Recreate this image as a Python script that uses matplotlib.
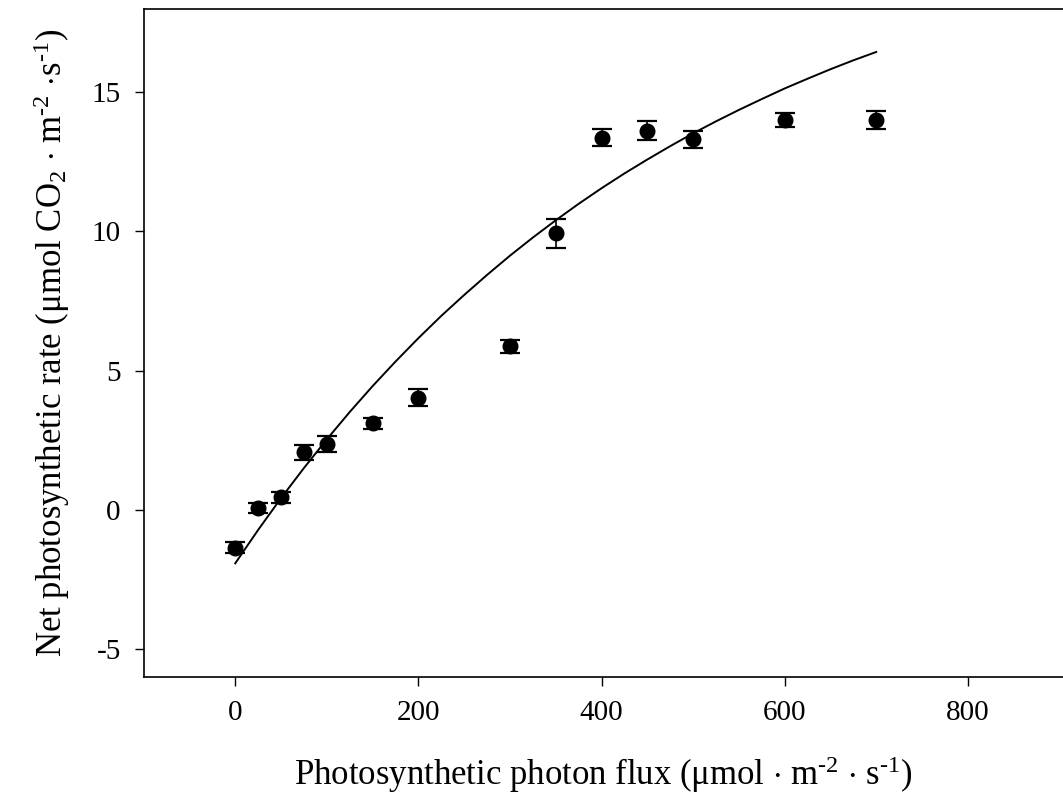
import matplotlib
matplotlib.use("Agg")
import matplotlib.pyplot as plt

plt.rcParams['font.family'] = ['Liberation Serif', 'DejaVu Serif']
plt.rcParams['mathtext.fontset'] = 'custom'
plt.rcParams['mathtext.rm'] = 'Liberation Serif'
plt.rcParams['mathtext.it'] = 'Liberation Serif:italic'
plt.rcParams['axes.unicode_minus'] = False

# measured points
ppf = [0, 25, 50, 75, 100, 150, 200, 300, 350, 400, 450, 500, 600, 700]
pn = [-1.35, 0.06, 0.46, 2.07, 2.37, 3.11, 4.04, 5.88, 9.93, 13.37, 13.61, 13.31, 13.99, 13.99]
pn_err = [0.19, 0.18, 0.19, 0.26, 0.29, 0.20, 0.31, 0.23, 0.51, 0.29, 0.34, 0.30, 0.26, 0.32]

# fitted curve
fit_x = [0, 25, 50, 75, 100, 125, 150, 175, 200, 225, 250, 275, 300, 325, 350,
         375, 400, 425, 450, 475, 500, 525, 550, 575, 600, 625, 650, 675, 700]
fit_y = [-1.91, -0.71, 0.43, 1.51, 2.54, 3.52, 4.45, 5.33, 6.17, 6.97, 7.72, 8.44,
         9.13, 9.78, 10.40, 10.99, 11.55, 12.08, 12.58, 13.06, 13.52, 13.95, 14.36,
         14.75, 15.13, 15.48, 15.82, 16.14, 16.44]

xticks = [0, 200, 400, 600, 800]
yticks = [-5, 0, 5, 10, 15]

fig = plt.figure(figsize=(10.63, 8.08), dpi=100)
ax = fig.add_axes([143.7 / 1063, (808 - 677.3) / 808, (1063 - 143.7) / 1063, (677.3 - 8.5) / 808])

ax.plot(fit_x, fit_y, color='black', linewidth=1.4)
ax.errorbar(ppf, pn, yerr=pn_err, fmt='o', color='black', markersize=10.5,
            ecolor='black', elinewidth=1.2, capsize=7.5, capthick=1.6)

ax.set_xlim(-100, 904)
ax.set_ylim(-6, 18)
ax.set_xticks(xticks)
ax.set_yticks(yticks)
ax.tick_params(direction='out', length=6.5, width=1.0, labelsize=21, pad=10)
ax.spines['right'].set_visible(False)
for s in ['left', 'bottom', 'top']:
    ax.spines[s].set_linewidth(1.2)

ax.set_xlabel(r'Photosynthetic photon flux (μmol $\cdot$ m$^{\text{-2}}$ $\cdot$ s$^{\text{-1}}$)',
              fontsize=25, labelpad=20)
ax.set_ylabel(r'Net photosynthetic rate (μmol CO$_{\mathrm{2}}$ $\cdot$ m$^{\text{-2}}$ $\cdot$s$^{\text{-1}}$)',
              fontsize=25, labelpad=14)

fig.savefig('out.png', dpi=100)
